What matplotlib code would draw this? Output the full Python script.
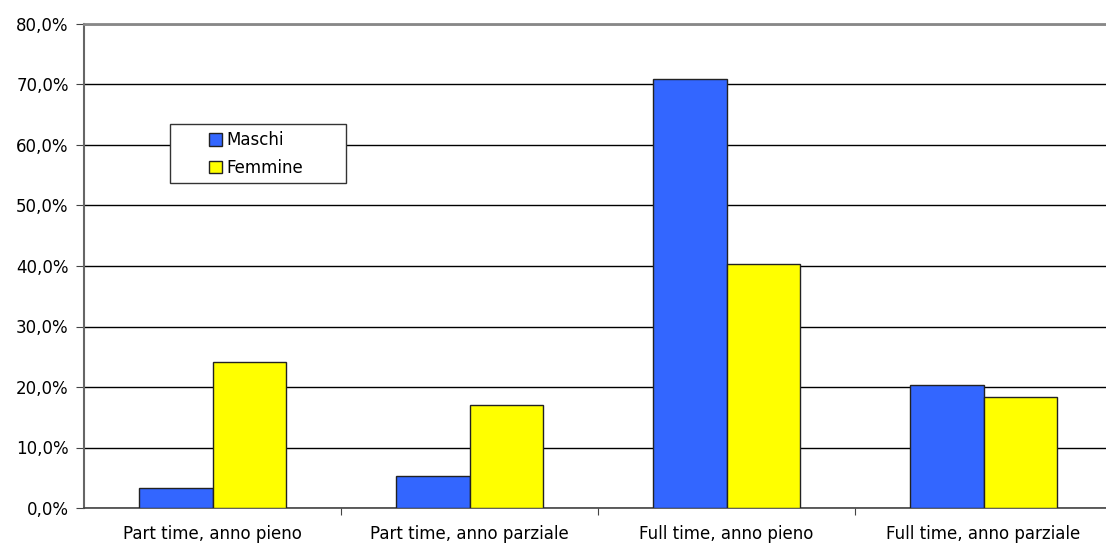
import numpy as np
import matplotlib
matplotlib.use("Agg")
import matplotlib.pyplot as plt
from matplotlib.patches import Rectangle
from matplotlib.ticker import FuncFormatter

# categories and shares (%)
categorie = ['Part time, anno pieno', 'Part time, anno parziale',
             'Full time, anno pieno', 'Full time, anno parziale']
maschi = [3.3, 5.3, 70.9, 20.4]
femmine = [24.2, 17.1, 40.4, 18.3]

plt.rcParams['font.family'] = ['DejaVu Sans']

fig = plt.figure(figsize=(11.06, 5.47), dpi=100)
W, H = 1106, 547
# axes runs a bit past the right edge of the picture, as in the original
ax = fig.add_axes([84 / W, 1 - 508 / H, 1028 / W, 484 / H])

x = np.arange(len(categorie))
bw = 0.286
ax.bar(x - bw / 2, maschi, bw, color='#3366FF', edgecolor='#222222', linewidth=1, label='Maschi', zorder=3)
ax.bar(x + bw / 2, femmine, bw, color='#FFFF00', edgecolor='#222222', linewidth=1, label='Femmine', zorder=3)

ax.set_xlim(-0.5, len(categorie) - 0.5)
ax.set_ylim(0, 80)
ax.set_yticks(np.arange(0, 81, 10))
ax.yaxis.set_major_formatter(FuncFormatter(lambda v, p: f"{v:.1f}%".replace('.', ',')))
ax.grid(axis='y', color='black', linewidth=1, zorder=0)

# category labels centred, ticks at the boundaries
ax.set_xticks(np.arange(len(categorie) - 1) + 0.5)
ax.set_xticklabels([])
ax.set_xticks(x, minor=True)
ax.set_xticklabels(categorie, minor=True, fontsize=12)
ax.tick_params(axis='x', which='minor', length=0, pad=12)
ax.tick_params(axis='x', which='major', length=5, color='#444444')
ax.tick_params(axis='y', length=6, color='#444444', labelsize=12, pad=5)

ax.spines['right'].set_visible(False)
ax.spines['top'].set_color('#888888')
ax.spines['top'].set_linewidth(2)
ax.spines['left'].set_color('#666666')
ax.spines['left'].set_linewidth(1.5)
ax.spines['bottom'].set_color('#444444')
ax.spines['bottom'].set_linewidth(1.2)

# legend box (wider than its entries, as in the original)
box = Rectangle((170 / W, 1 - 183 / H), 176 / W, 59 / H, transform=fig.transFigure,
                facecolor='white', edgecolor='#333333', linewidth=1, zorder=4)
fig.patches.append(box)
leg = fig.legend(loc='center left', bbox_to_anchor=(209 / W, 1 - 154 / H),
                 frameon=False, fontsize=12, handlelength=0.75, handleheight=0.75,
                 handletextpad=0.3, borderpad=0, labelspacing=0.55, borderaxespad=0)
leg.set_zorder(5)

fig.savefig('out.png', dpi=100)
